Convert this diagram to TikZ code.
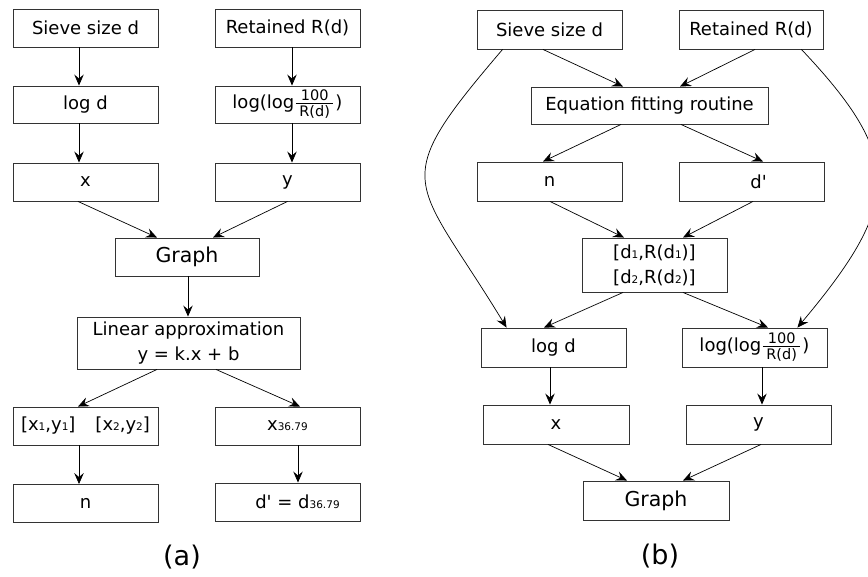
\documentclass[tikz,border=0pt]{standalone}
\usepackage{fontspec}
\setmainfont{DejaVu Sans}[Ligatures=TeXOff]
\usetikzlibrary{arrows.meta}
\newcommand{\lowsub}[1]{{\fontsize{10.5pt}{12pt}\selectfont #1}}
\newcommand{\fracbox}{$\vcenter{\hbox{\fontsize{14.5pt}{14pt}\selectfont\renewcommand{\arraystretch}{0.8}\setlength{\arrayrulewidth}{0.8pt}\begin{tabular}{@{\hspace{3.5pt}}c@{\hspace{3.5pt}}}100\\[-1pt]\hline\rule{0pt}{12.5pt}R(d)\end{tabular}}}$}
\newcommand{\logfrac}{log(log\hspace{1.5pt}\fracbox\hspace{2pt})}
\begin{document}
\begin{tikzpicture}[x=1pt,y=-1pt,
  box/.style={draw=black!80, line width=0.9pt, rectangle, minimum width=145pt, minimum height=38pt, inner sep=0pt, font=\fontsize{18pt}{25pt}\selectfont, align=center},
  bigbox/.style={box, font=\fontsize{20.5pt}{25pt}\selectfont},
  arr/.style={-{Stealth[length=11pt,width=9.5pt,inset=4pt]}, line width=0.7pt},
  captext/.style={font=\fontsize{27pt}{30pt}\selectfont, inner sep=0pt}]
\useasboundingbox (0,0) rectangle (868,577);
% ---------- (a) ----------
\node[box] (sa) at (85.5,28) {Sieve size d};
\node[box] (ra) at (287.5,28) {Retained R(d)};
\node[box, minimum height=37pt] (la) at (85.5,104.5) {log d};
\node[box, minimum height=37pt] (lla) at (287.5,104.5) {\logfrac};
\node[box] (xa) at (85.5,182) {x};
\node[box] (ya) at (287.5,182) {y};
\node[bigbox, minimum width=144pt] (ga) at (187,257) {Graph};
\node[box, minimum width=223pt, minimum height=52pt] (lin) at (188.5,343) {Linear approximation\\y = k.x + b};
\node[box] (pa) at (85.5,426) {[x\lowsub{1},y\lowsub{1}]\hspace{20pt}[x\lowsub{2},y\lowsub{2}]};
\node[box] (xs) at (287.5,426) {x\lowsub{36.79}};
\node[box] (na) at (85.5,503.5) {n};
\node[box] (da) at (287.5,502) {\hspace{20pt}d' = d\lowsub{36.79}};
\node[captext] (capa) at (182,557) {(a)};

\draw[arr] ([xshift=-6.5pt]sa.south) -- ([xshift=-6.5pt]la.north);
\draw[arr] ([xshift=4.5pt]ra.south) -- ([xshift=4.5pt]lla.north);
\draw[arr] ([xshift=-6.5pt]la.south) -- ([xshift=-6.5pt]xa.north);
\draw[arr] ([xshift=4.5pt]lla.south) -- ([xshift=4.5pt]ya.north);
\draw[arr] ([xshift=-7.5pt]xa.south) -- ([xshift=-30pt]ga.north);
\draw[arr] (ya.south) -- ([xshift=26pt]ga.north);
\draw[arr] ([xshift=1pt]ga.south) -- ([xshift=-0.5pt]lin.north);
\draw[arr] ([xshift=-31.5pt]lin.south) -- ([xshift=-7.5pt]pa.north);
\draw[arr] ([xshift=27.5pt]lin.south) -- ([xshift=12.5pt]xs.north);
\draw[arr] ([xshift=-6.5pt]pa.south) -- ([xshift=-6.5pt]na.north);
\draw[arr] ([xshift=10.5pt]xs.south) -- ([xshift=10.5pt]da.north);

% ---------- (b) ----------
\node[box, minimum height=39pt] (sb) at (549.5,29.5) {Sieve size d};
\node[box, minimum height=39pt, minimum width=144pt] (rb) at (751,29.5) {Retained R(d)};
\node[box, minimum width=237pt, minimum height=37pt] (eq) at (649.5,105.5) {Equation fitting routine};
\node[box, minimum height=39pt] (nb) at (549.5,181.5) {n};
\node[box, minimum height=39pt] (db) at (751.5,181.5) {\hspace{14pt}d'};
\node[box, minimum height=54pt] (dd) at (654.5,265) {[d\lowsub{1},R(d\lowsub{1})]\\{}[d\lowsub{2},R(d\lowsub{2})]};
\node[box, minimum height=39pt] (lb) at (553.5,347.5) {log d};
\node[box, minimum height=39pt] (llb) at (754.5,347.5) {\logfrac};
\node[box, minimum height=39pt, minimum width=146pt] (xb) at (556,424.5) {x};
\node[box, minimum height=39pt] (yb) at (758.5,424.5) {y};
\node[bigbox, minimum height=39pt, minimum width=146pt] (gb) at (656,500.5) {Graph};
\node[captext] (capb) at (660,556) {(b)};

\draw[arr] ([xshift=-6.5pt]sb.south) -- ([xshift=-26.5pt]eq.north);
\draw[arr] ([xshift=4pt]rb.south) -- ([xshift=30.5pt]eq.north);
\draw[arr] ([xshift=-28.5pt]eq.south) -- ([xshift=-6.5pt]nb.north);
\draw[arr] ([xshift=31.5pt]eq.south) -- ([xshift=11.5pt]db.north);
\draw[arr] ([xshift=0.5pt]nb.south) -- ([xshift=-30.5pt]dd.north);
\draw[arr] ([xshift=1.5pt]db.south) -- ([xshift=28.5pt]dd.north);
\draw[arr] ([xshift=-31.5pt]dd.south) -- ([xshift=-9.5pt]lb.north);
\draw[arr] ([xshift=28.5pt]dd.south) -- ([xshift=13.5pt]llb.north);
\draw[arr] ([xshift=-3.5pt]lb.south) -- ([xshift=-6pt]xb.north);
\draw[arr] ([xshift=7.5pt]llb.south) -- ([xshift=3.5pt]yb.north);
\draw[arr] ([xshift=-8pt]xb.south) -- ([xshift=-29pt]gb.north);
\draw[arr] ([xshift=2.5pt]yb.south) -- ([xshift=27pt]gb.north);
\draw[arr] ([xshift=26pt]sb.south west) .. controls (385,187) and (414,175) .. ([xshift=26pt]lb.north west);
\draw[arr] ([xshift=-22pt]rb.south east) .. controls (905,159) and (901,204) .. ([xshift=-30pt]llb.north east);
\end{tikzpicture}
\end{document}
